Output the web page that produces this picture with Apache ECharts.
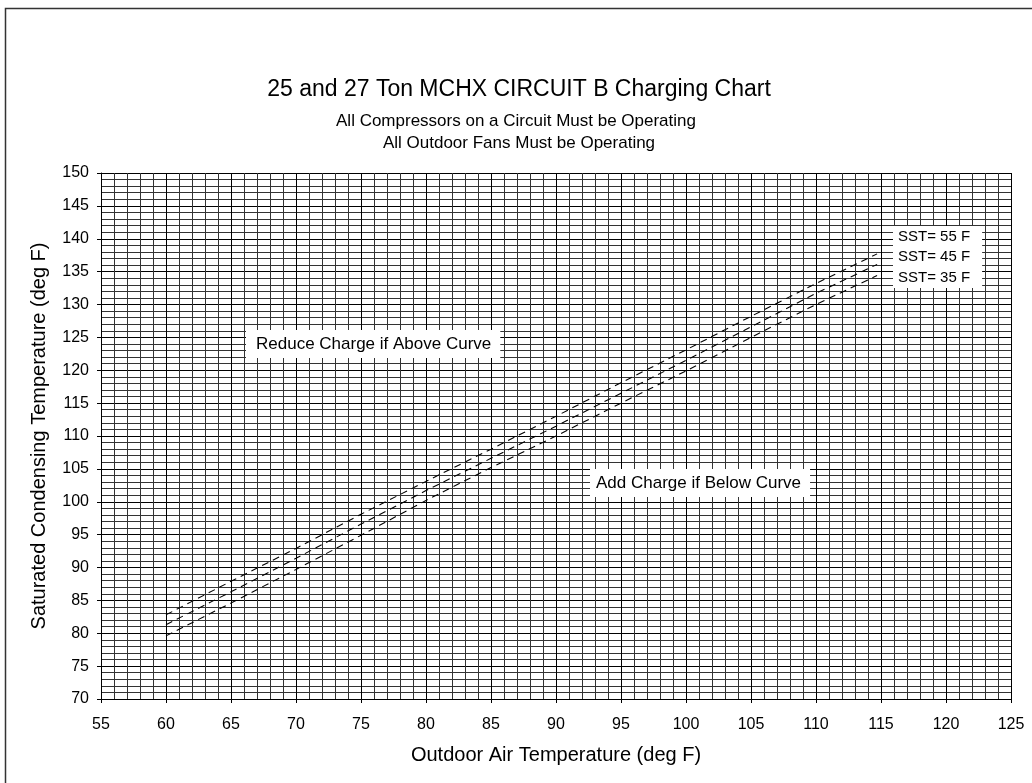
<!DOCTYPE html>
<html>
<head>
<meta charset="utf-8">
<script src="https://cdn.jsdelivr.net/npm/echarts@6/dist/echarts.min.js"></script>
<style>html,body{margin:0;padding:0;background:#fff}#c{width:1032px;height:783px}</style>
</head>
<body>
<div id="c"></div>
<script>
const outdoorTemp = [60, 65, 70, 75, 80, 85, 90, 95, 100, 105, 110, 114.7];
const sst55 = [82.8, 87.9, 92.9, 98.1, 103.1, 108.0, 113.0, 118.1, 123.1, 128.2, 133.2, 137.7];
const sst45 = [81.3, 86.3, 91.4, 96.6, 101.7, 106.6, 111.5, 116.5, 121.5, 126.6, 131.7, 136.1];
const sst35 = [79.6, 84.6, 89.7, 94.9, 100.2, 105.2, 110.0, 115.0, 119.9, 125.0, 130.0, 134.4];
const seriesNames = ['SST= 55 F', 'SST= 45 F', 'SST= 35 F'];
const titleText = '25 and 27 Ton MCHX CIRCUIT B Charging Chart';
const subText1 = 'All Compressors on a Circuit Must be Operating';
const subText2 = 'All Outdoor Fans Must be Operating';
const noteAbove = 'Reduce Charge if Above Curve';
const noteBelow = 'Add Charge if Below Curve';

const FONT = '"Liberation Sans", Arial, Helvetica, sans-serif';
const chart = echarts.init(document.getElementById('c'), null, {renderer: 'canvas'});
const pair = ys => outdoorTemp.map((x, i) => [x, ys[i]]);
const mk = (name, ys) => ({
  name, type: 'line', data: pair(ys), symbol: 'none', silent: true,
  lineStyle: {color: '#000', width: 1.1, type: [7, 5]}, z: 5
});

chart.setOption({
  animation: false,
  backgroundColor: '#fff',
  textStyle: {fontFamily: FONT, color: '#000'},
  grid: {left: 101, right: 21, top: 173, bottom: 84, containLabel: false},
  legend: {
    data: seriesNames, orient: 'vertical', left: 893, top: 226,
    icon: 'none', itemWidth: 0, itemHeight: 15, itemGap: 5.5,
    backgroundColor: '#fff', padding: [3, 12, 3, 0], selectedMode: false,
    textStyle: {fontFamily: FONT, fontSize: 15, color: '#000'}
  },
  xAxis: {
    type: 'value', min: 55, max: 125, interval: 5,
    name: 'Outdoor Air Temperature (deg F)', nameLocation: 'middle', nameGap: 46,
    nameTextStyle: {fontFamily: FONT, fontSize: 20, color: '#000'},
    axisLine: {show: true, onZero: false, lineStyle: {color: '#000', width: 1}},
    axisTick: {show: true, length: 4, lineStyle: {color: '#000'}},
    axisLabel: {fontFamily: FONT, fontSize: 16, color: '#000', margin: 18},
    splitLine: {show: true, lineStyle: {color: '#000', width: 1}},
    minorTick: {show: false, splitNumber: 5},
    minorSplitLine: {show: true, lineStyle: {color: '#333', width: 1}}
  },
  yAxis: {
    type: 'value', min: 70, max: 150, interval: 5,
    name: 'Saturated Condensing Temperature (deg F)', nameLocation: 'middle', nameGap: 52,
    nameTextStyle: {fontFamily: FONT, fontSize: 20, color: '#000'},
    axisLine: {show: true, onZero: false, lineStyle: {color: '#000', width: 1}},
    axisTick: {show: true, length: 4, lineStyle: {color: '#000'}},
    axisLabel: {fontFamily: FONT, fontSize: 16, color: '#000', margin: 12},
    splitLine: {show: true, lineStyle: {color: '#000', width: 1}},
    minorTick: {show: false, splitNumber: 5},
    minorSplitLine: {show: true, lineStyle: {color: '#333', width: 1}}
  },
  series: [mk(seriesNames[0], sst55), mk(seriesNames[1], sst45), mk(seriesNames[2], sst35)],
  graphic: [
    {type: 'rect', left: 3, top: 6, shape: {x: 0, y: 0, width: 1100, height: 900},
     style: {fill: 'none', stroke: '#333', lineWidth: 1.5}, silent: true, z: 100},
    {type: 'text', x: 519, y: 90, style: {text: titleText, font: '23px ' + FONT, fill: '#000', align: 'center', verticalAlign: 'middle'}, z: 100},
    {type: 'text', x: 516, y: 121, style: {text: subText1, font: '17px ' + FONT, fill: '#000', align: 'center', verticalAlign: 'middle'}, z: 100},
    {type: 'text', x: 519, y: 143, style: {text: subText2, font: '17px ' + FONT, fill: '#000', align: 'center', verticalAlign: 'middle'}, z: 100},
    {type: 'text', x: 246, y: 330, style: {text: noteAbove, font: '17px ' + FONT, fill: '#000', backgroundColor: '#fff', padding: [6, 9, 5, 10], lineHeight: 17}, z: 100},
    {type: 'text', x: 590, y: 469, style: {text: noteBelow, font: '17px ' + FONT, fill: '#000', backgroundColor: '#fff', padding: [6, 9, 5, 6], lineHeight: 17}, z: 100}
  ]
});
</script>
</body>
</html>
